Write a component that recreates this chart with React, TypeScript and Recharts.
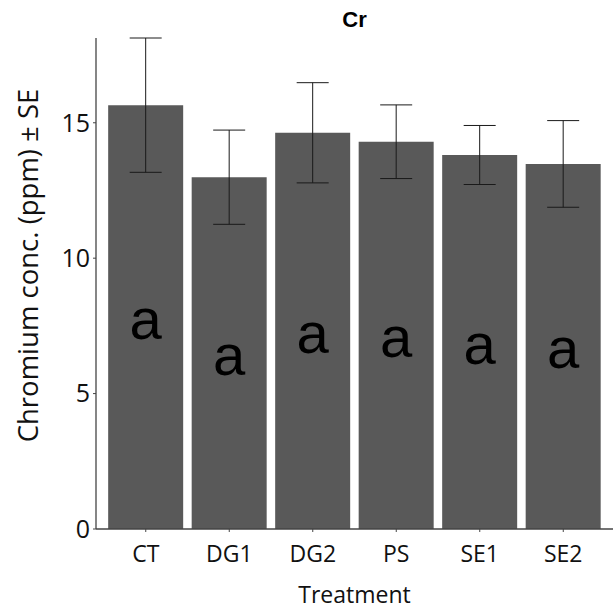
import { BarChart, Bar, XAxis, YAxis, ErrorBar, LabelList, Label } from "recharts";

const treatments = ["CT", "DG1", "DG2", "PS", "SE1", "SE2"];
const meanCr = [15.65, 12.99, 14.63, 14.3, 13.81, 13.48];
const seCr = [2.48, 1.74, 1.85, 1.36, 1.09, 1.6];
const letters = ["a", "a", "a", "a", "a", "a"];
const yTicks = [0, 5, 10, 15];

const data = treatments.map((t, i) => ({
    treatment: t,
    mean: meanCr[i],
    se: seCr[i],
    letter: letters[i],
}));

// ggplot-style: y axis ends right at the top of the highest error bar
const yTop = Math.max(...meanCr.map((m, i) => m + seCr[i]));

const axisFont = "'Open Sans', 'Noto Sans', sans-serif";

const renderLetter = (props: any) => {
    const { x, y, width, height, value } = props;
    return (
        <text
            x={x + width / 2}
            y={y + height / 2 + 22}
            textAnchor="middle"
            fontSize={58}
            fontFamily="'Liberation Sans', Arial, sans-serif"
            fill="#000"
        >
            {value}
        </text>
    );
};

export default function App() {
    return (
        <div style={{ position: "absolute", left: 0, top: 0, width: 613, height: 614, background: "#fff" }}>
            <div
                style={{
                    position: "absolute",
                    top: 9,
                    left: 96,
                    width: 517,
                    textAlign: "center",
                    fontFamily: "'Liberation Sans', Arial, sans-serif",
                    fontWeight: 700,
                    fontSize: 22,
                    lineHeight: "22px",
                    color: "#000",
                }}
            >
                Cr
            </div>
            <BarChart
                width={613}
                height={614}
                data={data}
                margin={{ top: 38, right: 0, bottom: 0, left: 0 }}
                barCategoryGap="5%"
            >
                <XAxis
                    dataKey="treatment"
                    height={85}
                    padding={{ left: 8, right: 8 }}
                    tickSize={3}
                    tickMargin={14}
                    tick={{ fontSize: 23, fill: "#111", fontFamily: axisFont }}
                    stroke="#444"
                    axisLine={{ stroke: "#444", strokeWidth: 1.3 }}
                    tickLine={{ stroke: "#444" }}
                >
                    <Label
                        content={({ viewBox }: any) => (
                            <text
                                x={viewBox.x + viewBox.width / 2}
                                y={viewBox.y + 74}
                                textAnchor="middle"
                                fontSize={23}
                                fontFamily={axisFont}
                                fill="#111"
                            >
                                Treatment
                            </text>
                        )}
                    />
                </XAxis>
                <YAxis
                    width={96}
                    domain={[0, yTop]}
                    ticks={yTicks}
                    allowDataOverflow
                    tickSize={3}
                    tickMargin={3}
                    tick={{ fontSize: 25, fill: "#111", fontFamily: axisFont }}
                    axisLine={{ stroke: "#444", strokeWidth: 1.3 }}
                    tickLine={{ stroke: "#444" }}
                >
                    <Label
                        content={({ viewBox }: any) => {
                            const bx = 38;
                            const cy = viewBox.y + viewBox.height / 2 - 18;
                            return (
                                <text
                                    x={bx}
                                    y={cy}
                                    transform={`rotate(-90 ${bx} ${cy})`}
                                    textAnchor="middle"
                                    fontSize={27.5}
                                    fontFamily={axisFont}
                                    fill="#111"
                                >
                                    Chromium conc. (ppm) ± SE
                                </text>
                            );
                        }}
                    />
                </YAxis>
                <Bar dataKey="mean" fill="#595959" isAnimationActive={false}>
                    <ErrorBar
                        dataKey="se"
                        width={16}
                        stroke="#1a1a1a"
                        strokeWidth={1}
                        isAnimationActive={false}
                    />
                    <LabelList dataKey="letter" content={renderLetter} />
                </Bar>
            </BarChart>
        </div>
    );
}
